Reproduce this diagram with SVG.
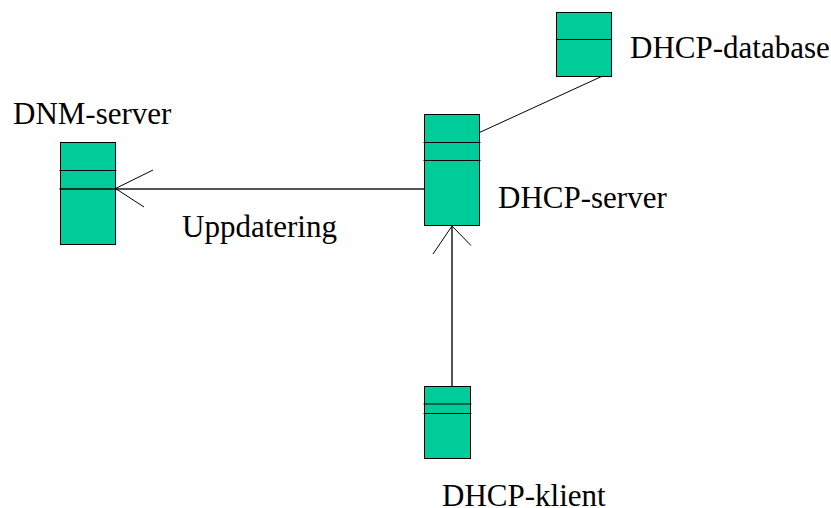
<svg xmlns="http://www.w3.org/2000/svg" width="831" height="508" viewBox="0 0 831 508">
<style>
.n{fill:#00cc99;stroke:#000;stroke-width:1}
.l{fill:none;stroke:#000;stroke-width:1}
.c{fill:none;stroke:#555;stroke-width:2}
text{font-family:"Liberation Serif","Times New Roman",serif;font-size:31px;fill:#000}
</style>
<rect width="831" height="508" fill="#fff"/>
<g id="connectors">
<path class="c" d="M424 189H116"/>
<path class="c" d="M452 386V227"/>
<path class="l" d="M153 170L115.500 188.500L144 207"/>
<path class="l" d="M433 254L452 226L471 245.500"/>
<path class="l" d="M479.500 132.500L601.500 76.500"/>
</g>
<g id="dhcp-database"><rect class="n" x="556.500" y="12.500" width="55" height="64"/><path class="l" d="M556.500 39.500H611.500"/><text x="630" y="58">DHCP-database</text></g>
<g id="dnm-server"><rect class="n" x="60.500" y="142.500" width="55" height="102"/><path class="l" d="M59.500 170.500H116.500"/><path class="l" style="stroke-width:1.500" d="M59.500 189H116.500"/><text x="13" y="124">DNM-server</text></g>
<g id="dhcp-server"><rect class="n" x="424.500" y="114.500" width="55" height="111"/><path class="l" d="M423.500 142.500H480.500M423.500 160.500H480.500"/><text x="498" y="208">DHCP-server</text></g>
<g id="dhcp-klient"><rect class="n" x="424.500" y="386.500" width="46" height="72"/><path class="l" d="M423.500 404H471.500M423.500 413.500H471.500"/><text x="442" y="506">DHCP-klient</text></g>
<g id="uppdatering-label"><text x="182" y="237">Uppdatering</text></g>
</svg>
